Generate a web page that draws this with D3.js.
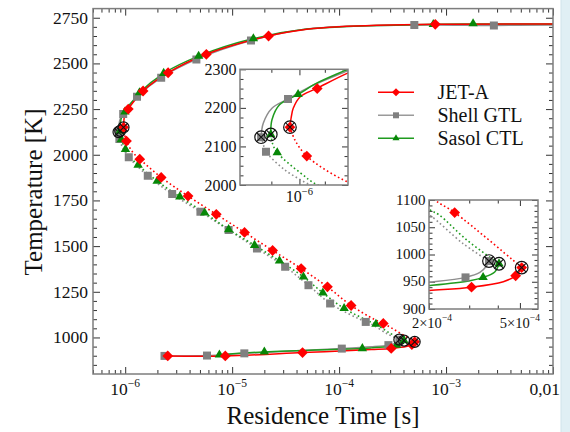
<!DOCTYPE html>
<html><head><meta charset="utf-8">
<script src="https://cdn.jsdelivr.net/npm/d3@7"></script>
<style>body{margin:0;background:#fff}svg{display:block}text{font-family:"Liberation Serif","Times New Roman",serif;fill:#111}</style>
</head><body><svg id="c" width="570" height="432"></svg>
<script>
// ---------- data (residence time [s], temperature [K]) ----------
const jetUpper = [[9.65e-7,2150],[9.70e-7,2177],[9.77e-7,2199],[1.003e-6,2229],[1.069e-6,2251],[1.198e-6,2290],[1.47e-6,2349],[2.52e-6,2449],[5.74e-6,2550],[2.19e-5,2650],[5.0e-5,2687],[1.0e-4,2701],[7.93e-4,2714],[1.0e-2,2716]];
const jetMiddle = [[9.65e-7,2150],[9.83e-7,2117],[1.028e-6,2075],[1.18e-6,2013],[1.368e-6,1976],[2.17e-6,1876],[3.87e-6,1774],[7.11e-6,1674],[1.306e-5,1575],[2.39e-5,1476],[4.42e-5,1377],[7.78e-5,1277],[1.295e-4,1175],[2.12e-4,1100],[2.59e-4,1077],[5.09e-4,976]];
const jetLower = [[2.5e-6,899],[8.63e-6,899],[4.55e-5,917],[2.0e-4,934],[3.07e-4,940],[4.23e-4,950],[4.79e-4,961],[5.09e-4,976]];
const jetMarkers = [[1.069e-6,2250],[1.47e-6,2349],[2.52e-6,2449],[5.74e-6,2550],[2.19e-5,2650],[7.93e-4,2714],[1.028e-6,2075],[1.368e-6,1976],[2.17e-6,1876],[3.87e-6,1774],[7.11e-6,1674],[1.306e-5,1575],[2.39e-5,1476],[4.42e-5,1377],[7.78e-5,1277],[1.295e-4,1175],[2.59e-4,1077],[2.5e-6,899],[8.63e-6,899],[4.55e-5,917],[3.07e-4,940],[4.79e-4,961]];
const jetTurns = [[9.65e-7,2150],[5.09e-4,976]];

const gtlUpper = [[8.66e-7,2124],[8.73e-7,2160],[9.02e-7,2199],[9.58e-7,2223],[1.041e-6,2255],[1.198e-6,2296],[1.29e-6,2318],[2.17e-6,2422],[4.63e-6,2522],[1.5e-5,2625],[5.0e-5,2688],[5.05e-4,2710],[2.8e-3,2708],[1.0e-2,2710]];
const gtlMiddle = [[8.66e-7,2124],[8.75e-7,2100],[8.82e-7,2086],[9.47e-7,2039],[1.04e-6,2000],[1.08e-6,1986],[1.626e-6,1885],[2.75e-6,1785],[5.05e-6,1688],[9.27e-6,1588],[1.706e-5,1487],[3.13e-5,1387],[5.17e-5,1286],[8.24e-5,1186],[1.775e-4,1085],[2.02e-4,1072],[2.82e-4,1020],[3.66e-4,988]];
const gtlLower = [[2.33e-6,899],[5.82e-6,901],[1.3e-5,913],[1.06e-4,939],[2.0e-4,949],[2.89e-4,958],[3.34e-4,967],[3.57e-4,979],[3.66e-4,988]];
const gtlMarkers = [[9.58e-7,2223],[1.29e-6,2318],[2.17e-6,2422],[4.63e-6,2522],[1.5e-5,2625],[5.05e-4,2710],[2.8e-3,2708],[8.82e-7,2086],[1.08e-6,1986],[1.626e-6,1885],[2.75e-6,1785],[5.05e-6,1688],[9.27e-6,1588],[1.706e-5,1487],[3.13e-5,1387],[5.17e-5,1286],[8.24e-5,1186],[1.775e-4,1085],[2.33e-6,899],[5.82e-6,901],[1.3e-5,913],[1.06e-4,939],[2.89e-4,958]];
const gtlTurns = [[8.66e-7,2124],[3.66e-4,988]];

const ctlUpper = [[8.98e-7,2131],[9.02e-7,2169],[9.28e-7,2208],[9.95e-7,2235],[1.067e-6,2264],[1.198e-6,2300],[1.36e-6,2340],[2.29e-6,2446],[4.86e-6,2540],[1.58e-5,2636],[5.0e-5,2688],[7.6e-4,2714],[1.79e-3,2716],[1.0e-2,2716]];
const ctlMiddle = [[8.98e-7,2131],[9.05e-7,2105],[9.2e-7,2084],[1.006e-6,2030],[1.07e-6,2000],[1.32e-6,1944],[1.99e-6,1856],[3.24e-6,1770],[5.53e-6,1682],[9.27e-6,1591],[1.62e-5,1505],[2.77e-5,1419],[4.64e-5,1332],[7.05e-5,1244],[1.114e-4,1159],[2.02e-4,1082],[2.21e-4,1073],[2.92e-4,1027],[4.05e-4,983]];
const ctlLower = [[7.6e-6,905],[2.0e-5,921],[1.65e-4,940],[2.0e-4,943],[3.02e-4,952],[3.45e-4,958],[3.88e-4,968],[4.05e-4,983]];
const ctlMarkers = [[9.95e-7,2235],[1.36e-6,2340],[2.29e-6,2446],[4.86e-6,2540],[1.58e-5,2636],[7.6e-4,2714],[1.79e-3,2718],[9.2e-7,2084],[1.006e-6,2030],[1.32e-6,1944],[1.99e-6,1856],[3.24e-6,1770],[5.53e-6,1682],[9.27e-6,1591],[1.62e-5,1505],[2.77e-5,1419],[4.64e-5,1332],[7.05e-5,1244],[1.114e-4,1159],[2.21e-4,1073],[7.6e-6,905],[2.0e-5,921],[1.65e-4,940],[3.45e-4,958]];
const ctlTurns = [[8.98e-7,2131],[4.05e-4,983]];

// markers shown in the zoomed insets
const inset1Jet = [[1.069e-6,2250],[1.028e-6,2075]];
const inset1Gtl = [[9.58e-7,2223],[8.82e-7,2086]];
const inset1Ctl = [[9.95e-7,2235],[9.2e-7,2084]];
const inset2Jet = [[2.59e-4,1077],[3.07e-4,940],[4.79e-4,961]];
const inset2Gtl = [[2.89e-4,958]];
const inset2Ctl = [[3.45e-4,958]];

const seriesNames = ["JET-A","Shell GTL","Sasol CTL"];

// axes / ticks
const mainXDomain = [5e-7,1e-2], mainYDomain = [800,2800];
const mainXTicks = [1e-6,1e-5,1e-4,1e-3,1e-2];
const mainXTickLabels = ["10^\u22126","10^\u22125","10^\u22124","10^\u22123","0,01"];
const mainYTicks = [1000,1250,1500,1750,2000,2250,2500,2750];
const mainYTickLabels = ["1000","1250","1500","1750","2000","2250","2500","2750"];
const in1XDomain = [8e-7,1.2e-6], in1YDomain = [2000,2300];
const in1XTicks = [1e-6], in1XTickLabels = ["10^\u22126"];
const in1XMinor = [9e-7,1.1e-6];
const in1YTicks = [2000,2100,2200,2300], in1YTickLabels = ["2000","2100","2200","2300"];
const in2XDomain = [2e-4,6e-4], in2YDomain = [900,1100];
const in2XTicks = [2e-4,5e-4], in2XTickLabels = ["2\u00d710^\u22124","5\u00d710^\u22124"];
const in2XMinor = [3e-4,4e-4];
const in2YTicks = [900,950,1000,1050,1100], in2YTickLabels = ["900","950","1000","1050","1100"];
const xLabel = "Residence Time [s]", yLabel = "Temperature [K]";

// ---------- drawing ----------
const svg = d3.select("#c");
svg.append("rect").attr("width",570).attr("height",432).attr("fill","#fff");
svg.append("rect").attr("x",561).attr("y",0).attr("width",9).attr("height",432).attr("fill","#e0eff4");
svg.append("line").attr("x1",561).attr("x2",561).attr("y1",0).attr("y2",432).attr("stroke","#cfe3ea");

const S = [
  {name:"Shell GTL", mc:"#808080", lc:"#8e8e8e", shape:"square", up:gtlUpper, mid:gtlMiddle, low:gtlLower, marks:gtlMarkers, turns:gtlTurns, in1:inset1Gtl, in2:inset2Gtl},
  {name:"Sasol CTL", mc:"#078707", lc:"#1f9b1f", shape:"triangle", up:ctlUpper, mid:ctlMiddle, low:ctlLower, marks:ctlMarkers, turns:ctlTurns, in1:inset1Ctl, in2:inset2Ctl},
  {name:"JET-A", mc:"#ff0000", lc:"#ff0000", shape:"diamond", up:jetUpper, mid:jetMiddle, low:jetLower, marks:jetMarkers, turns:jetTurns, in1:inset1Jet, in2:inset2Jet}
];

function shapePath(shape, k){
  if(shape==="diamond"){const s=5.4*k;return `M0,${-s}L${s},0L0,${s}L${-s},0Z`;}
  if(shape==="square"){const s=4*k;return `M${-s},${-s}H${s}V${s}H${-s}Z`;}
  const a=9.4*k, r=a/Math.sqrt(3);
  return `M0,${-r}L${a/2},${r/2}L${-a/2},${r/2}Z`;
}

function addLabel(g, str, x, y, anchor, size){
  const t=g.append("text").attr("x",x).attr("y",y).attr("text-anchor",anchor).attr("font-size",size);
  const p=str.split("^");
  t.append("tspan").text(p[0]);
  if(p[1]) t.append("tspan").attr("font-size",size*0.66).attr("dy",-size*0.45).text(p[1]);
  return t;
}

function ticks(g, xs, ys, xv, yv, size){
  const [xa,xb]=xs.range(), [ya,yb]=ys.range();
  const mk=(gen,tr)=>{const a=g.append("g").attr("transform",tr)
      .call(gen.tickSizeInner(-size).tickSizeOuter(0).tickFormat(""));
    a.select(".domain").remove();
    a.selectAll("line").attr("stroke","#333").attr("stroke-width",1);};
  mk(d3.axisBottom(xs).tickValues(xv),`translate(0,${ya})`);
  mk(d3.axisTop(xs).tickValues(xv),`translate(0,${yb})`);
  mk(d3.axisLeft(ys).tickValues(yv),`translate(${xa},0)`);
  mk(d3.axisRight(ys).tickValues(yv),`translate(${xb},0)`);
}

function frame(g, xs, ys){
  const [xa,xb]=xs.range(), [ya,yb]=ys.range();
  g.append("rect").attr("x",xa).attr("y",yb).attr("width",xb-xa).attr("height",ya-yb)
   .attr("fill","none").attr("stroke","#7d7d7d").attr("stroke-width",1.5);
}

let clipN=0;
function plotData(g, xs, ys, markKey, k, ringR){
  const [xa,xb]=xs.range(), [ya,yb]=ys.range();
  const id="clip"+(clipN++);
  g.append("clipPath").attr("id",id).append("rect").attr("x",xa).attr("y",yb).attr("width",xb-xa).attr("height",ya-yb);
  const d=g.append("g").attr("clip-path",`url(#${id})`);
  const line=d3.line().x(p=>xs(p[0])).y(p=>ys(p[1])).curve(d3.curveCatmullRom.alpha(0.5));
  S.forEach(s=>{
    d.append("path").attr("d",line(s.mid)).attr("fill","none").attr("stroke",s.lc).attr("stroke-width",1.6).attr("stroke-dasharray","1.6,2.6");
    d.append("path").attr("d",line(s.up)).attr("fill","none").attr("stroke",s.lc).attr("stroke-width",1.5);
    d.append("path").attr("d",line(s.low)).attr("fill","none").attr("stroke",s.lc).attr("stroke-width",1.5);
  });
  S.forEach(s=>{
    d.selectAll(null).data(s[markKey]).join("path").attr("d",shapePath(s.shape,k))
     .attr("transform",p=>`translate(${xs(p[0])},${ys(p[1])})`).attr("fill",s.mc);
  });
  S.forEach(s=>{
    s.turns.forEach(p=>{
      const cx=xs(p[0]), cy=ys(p[1]);
      d.append("path").attr("d",shapePath(s.shape,k)).attr("transform",`translate(${cx},${cy})`).attr("fill",s.mc);
      d.append("circle").attr("cx",cx).attr("cy",cy).attr("r",ringR).attr("fill","none").attr("stroke","#111").attr("stroke-width",1.2);
      const q=ringR*0.68;
      d.append("path").attr("d",`M${cx-q},${cy-q}L${cx+q},${cy+q}M${cx-q},${cy+q}L${cx+q},${cy-q}`).attr("stroke","#111").attr("stroke-width",1.1);
    });
  });
}

// main plot
const x=d3.scaleLog().domain(mainXDomain).range([93,553]);
const y=d3.scaleLinear().domain(mainYDomain).range([374,8.6]);
const main=svg.append("g");
const xMinor=[]; for(let e=-7;e<=-3;e++) for(let m=2;m<=9;m++){const v=m*Math.pow(10,e); if(v>=mainXDomain[0]&&v<=mainXDomain[1]) xMinor.push(v);}
ticks(main,x,y,mainXTicks,mainYTicks,7);
ticks(main,x,y,xMinor,d3.range(850,2800,50).filter(v=>v%250!==0),4);
plotData(main,x,y,"marks",1,5.5);
frame(main,x,y);
mainYTicks.forEach((v,i)=>addLabel(main,mainYTickLabels[i],88,y(v)+6,"end",17.5));
mainXTicks.forEach((v,i)=>{
  const last=i===mainXTicks.length-1;
  addLabel(main,mainXTickLabels[i],last?560:x(v),395,last?"end":"middle",17.5);
});
main.append("text").attr("x",323).attr("y",424).attr("text-anchor","middle").attr("font-size",25).text(xLabel);
main.append("text").attr("transform","translate(42,192) rotate(-90)").attr("text-anchor","middle").attr("font-size",25).text(yLabel);

// inset 1
const x1=d3.scaleLog().domain(in1XDomain).range([240,348]);
const y1=d3.scaleLinear().domain(in1YDomain).range([185,69.3]);
const g1=svg.append("g");
g1.append("rect").attr("x",240).attr("y",69.3).attr("width",108).attr("height",115.7).attr("fill","#fff");
ticks(g1,x1,y1,in1XTicks,in1YTicks,6);
ticks(g1,x1,y1,in1XMinor,d3.range(2025,2300,25).filter(v=>v%100!==0),3.5);
plotData(g1,x1,y1,"in1",1,6.3);
frame(g1,x1,y1);
in1YTicks.forEach((v,i)=>addLabel(g1,in1YTickLabels[i],236.5,y1(v)+5.5,"end",16));
in1XTicks.forEach((v,i)=>addLabel(g1,in1XTickLabels[i],x1(v),202,"middle",16));

// inset 2
const x2=d3.scaleLog().domain(in2XDomain).range([429,538]);
const y2=d3.scaleLinear().domain(in2YDomain).range([309,200]);
const g2=svg.append("g");
g2.append("rect").attr("x",429).attr("y",200).attr("width",109).attr("height",109).attr("fill","#fff");
ticks(g2,x2,y2,in2XTicks,in2YTicks,6);
ticks(g2,x2,y2,in2XMinor,d3.range(910,1100,10).filter(v=>v%50!==0),3.5);
plotData(g2,x2,y2,"in2",1,6.3);
frame(g2,x2,y2);
in2YTicks.forEach((v,i)=>addLabel(g2,in2YTickLabels[i],425.5,y2(v)+4.5,"end",15));
in2XTicks.forEach((v,i)=>addLabel(g2,in2XTickLabels[i],x2(v)+(i===0?3:0),327.5,"middle",14.5));

// legend
const lg=svg.append("g");
seriesNames.forEach((nm,i)=>{
  const s=S.find(q=>q.name===nm); const yy=92.3+i*23;
  lg.append("line").attr("x1",378).attr("x2",414).attr("y1",yy).attr("y2",yy).attr("stroke",s.shape==="square"?"#9a9a9a":s.lc).attr("stroke-width",1.5);
  lg.append("path").attr("d",shapePath(s.shape,0.75)).attr("transform",`translate(396,${yy})`).attr("fill",s.mc);
  lg.append("text").attr("x",437.5).attr("y",yy+6.5).attr("font-size",20).text(nm);
});
</script></body></html>
